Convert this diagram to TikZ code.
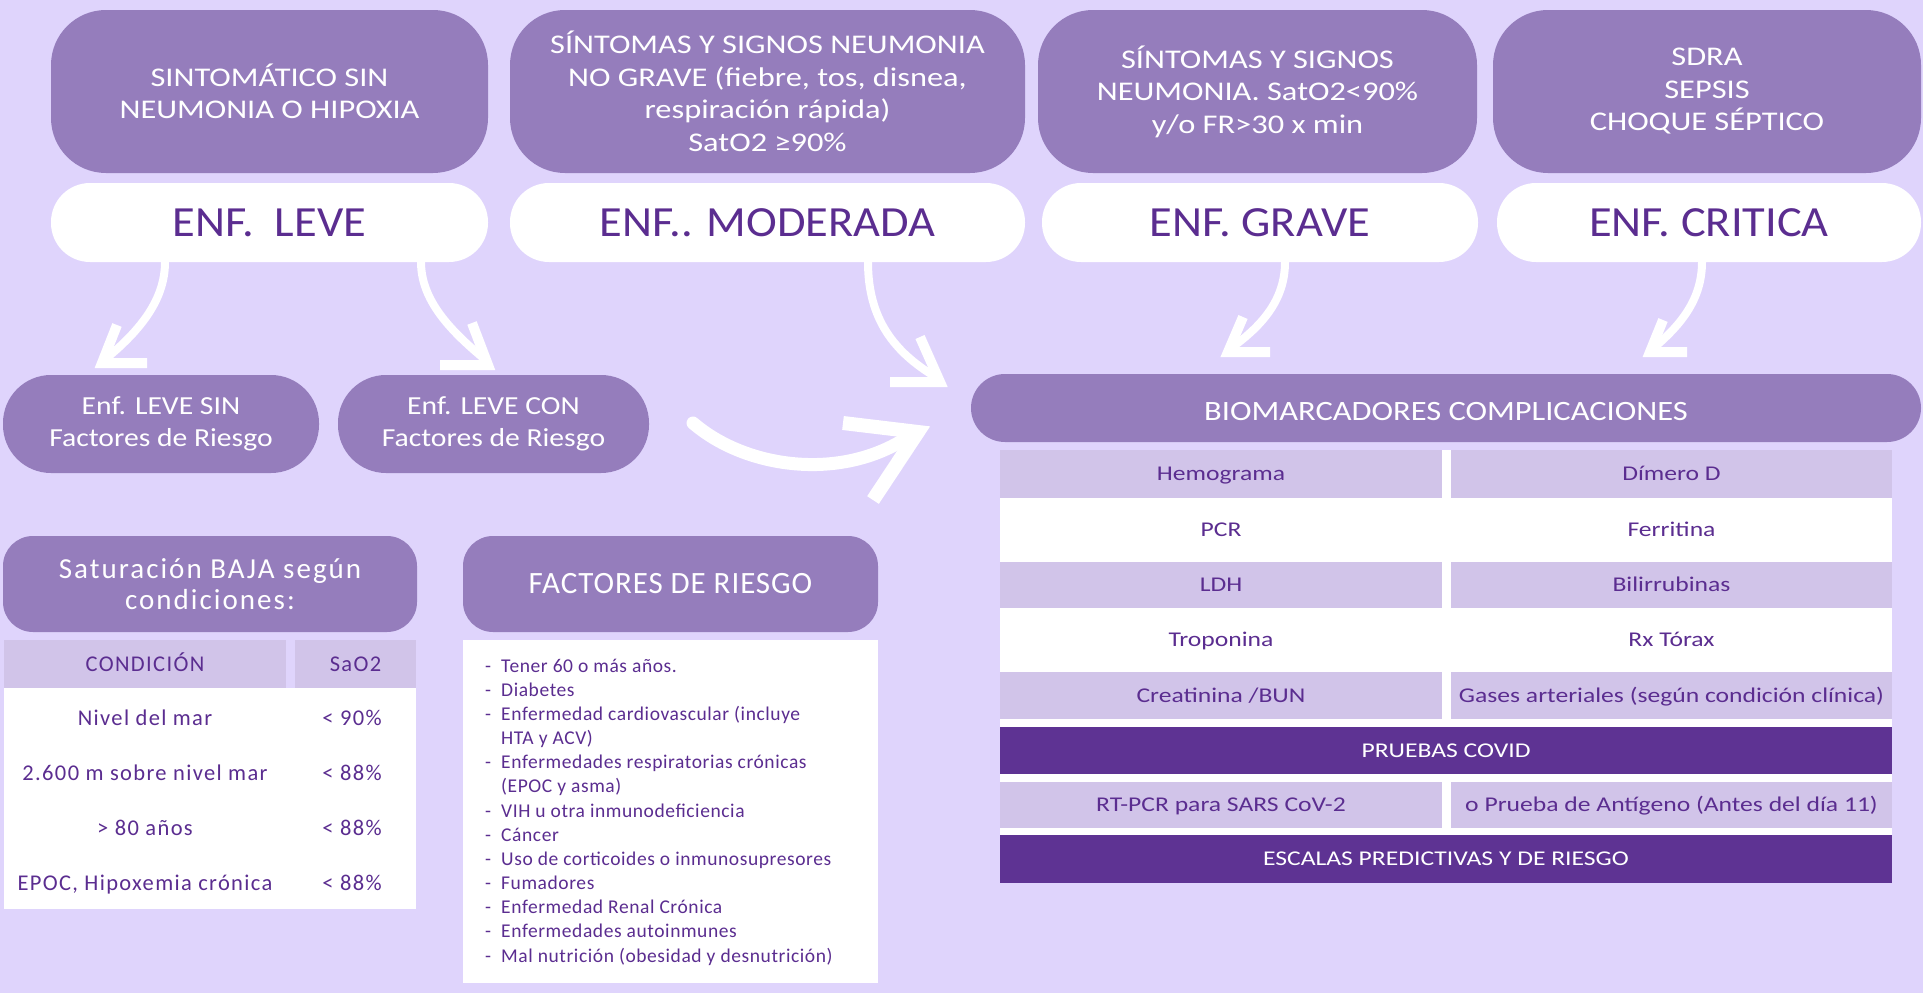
\documentclass[tikz,border=0pt]{standalone}
\usepackage{fontspec}
\setmainfont{Carlito}
\newfontfamily\stf[FakeStretch=1.2]{Carlito}
\newfontfamily\enff[FakeStretch=1.08]{Carlito}
\newfontfamily\pilf[FakeStretch=1.14]{Carlito}
\newfontfamily\bmf[FakeStretch=1.16]{Carlito}
\newfontfamily\cellf[FakeStretch=1.22]{Carlito}
\newfontfamily\lsf[LetterSpace=6]{Carlito}
\newfontfamily\lstf[LetterSpace=7]{Carlito}
\newfontfamily\lmf[LetterSpace=3]{Carlito}
\definecolor{bgc}{HTML}{DFD4FC}
\definecolor{boxc}{HTML}{957DBC}
\definecolor{lightc}{HTML}{D1C4E9}
\definecolor{darkc}{HTML}{5E3393}
\definecolor{txtc}{HTML}{5B2D90}
\tikzset{
  topbox/.style={fill=boxc, rounded corners=55pt, minimum height=163pt, inner sep=0pt, text=white, align=center, font=\stf\fontsize{27}{32.5}\selectfont},
  enfpill/.style={fill=white, rounded corners=39pt, minimum height=79pt, inner sep=0pt, text=txtc, font=\enff\fontsize{43}{50}\selectfont, text height=28pt, text depth=0pt},
  subpill/.style={fill=boxc, rounded corners=48pt, minimum height=98pt, inner sep=0pt, text=white, align=center, font=\pilf\fontsize{26}{32}\selectfont},
  hdrbox/.style={fill=boxc, rounded corners=30pt, minimum height=96pt, inner sep=0pt, text=white, align=center},
  cell/.style={inner sep=0pt, text=txtc, font=\cellf\fontsize{21}{25}\selectfont, text height=13.5pt, text depth=0pt},
  darkcell/.style={cell, fill=darkc, text=white, minimum width=892pt},
  ltcell/.style={inner sep=0pt, text=txtc, font=\lsf\fontsize{22.5}{27}\selectfont},
  litem/.style={inner sep=0pt, anchor=base west, text=txtc, font=\lmf\fontsize{19.5}{24}\selectfont},
  arr/.style={draw=white, line width=8pt, line cap=round},
  arrhead/.style={draw=white, line width=10pt, line join=miter, line cap=butt}
}
\begin{document}
\begin{tikzpicture}[x=1pt,y=-1pt]
\useasboundingbox (0,0) rectangle (1923,993);
\fill[bgc] (0,0) rectangle (1923,993);

% top boxes
\node[topbox, minimum width=437pt] (t1) at (269.5,91.5) {SINTOMÁTICO SIN\\NEUMONIA O HIPOXIA};
\node[topbox, minimum width=515pt] (t2) at (767.5,91.5) {SÍNTOMAS Y SIGNOS NEUMONIA\\NO GRAVE (fiebre, tos, disnea,\\respiración rápida)\\SatO2 ≥90\%};
\node[topbox, minimum width=439pt] (t3) at (1257.5,91.5) {SÍNTOMAS Y SIGNOS\\NEUMONIA. SatO2<90\%\\y/o FR>30 x min};
\node[topbox, minimum width=428pt] (t4) at (1707,91.5) {SDRA\\SEPSIS\\CHOQUE SÉPTICO};

% severity pills
\node[enfpill, minimum width=437pt] (e1) at (269.5,222.5) {ENF.~~LEVE};
\node[enfpill, minimum width=515pt] (e2) at (767.5,222.5) {ENF.. MODERADA};
\node[enfpill, minimum width=436pt] (e3) at (1260,222.5) {ENF. GRAVE};
\node[enfpill, minimum width=424pt] (e4) at (1709,222.5) {ENF. CRITICA};

% sub pills
\node[subpill, minimum width=316pt] (s1) at (161,424) {Enf. LEVE SIN\\Factores de Riesgo};
\node[subpill, minimum width=311pt] (s2) at (493.5,424) {Enf. LEVE CON\\Factores de Riesgo};

% biomarcadores
\node[fill=boxc, rounded corners=34pt, minimum width=950pt, minimum height=68pt, inner sep=0pt, text=white, font=\bmf\fontsize{28}{34}\selectfont, text height=24pt, text depth=0pt] (bio) at (1446,408) {BIOMARCADORES COMPLICACIONES};

% right table
\node[fill=white, minimum width=892pt, minimum height=433pt, inner sep=0pt] (tbl) at (1446,666.5) {};
\node[cell, fill=lightc, minimum width=442pt, minimum height=48pt] (c11) at (1221,474) {Hemograma};
\node[cell, fill=lightc, minimum width=441pt, minimum height=48pt] (c12) at (1671.5,474) {Dímero D};
\node[cell, minimum width=442pt, minimum height=64pt] (c21) at (1221,530) {PCR};
\node[cell, minimum width=441pt, minimum height=64pt] (c22) at (1671.5,530) {Ferritina};
\node[cell, fill=lightc, minimum width=442pt, minimum height=46pt] (c31) at (1221,585) {LDH};
\node[cell, fill=lightc, minimum width=441pt, minimum height=46pt] (c32) at (1671.5,585) {Bilirrubinas};
\node[cell, minimum width=442pt, minimum height=64pt] (c41) at (1221,640) {Troponina};
\node[cell, minimum width=441pt, minimum height=64pt] (c42) at (1671.5,640) {Rx Tórax};
\node[cell, fill=lightc, minimum width=442pt, minimum height=47pt] (c51) at (1221,695.5) {Creatinina /BUN};
\node[cell, fill=lightc, minimum width=441pt, minimum height=47pt] (c52) at (1671.5,695.5) {Gases arteriales (según condición clínica)};
\node[darkcell, minimum height=47pt] (c6) at (1446,750.5) {PRUEBAS COVID};
\node[cell, fill=lightc, minimum width=442pt, minimum height=46pt] (c71) at (1221,805) {RT-PCR para SARS CoV-2};
\node[cell, fill=lightc, minimum width=441pt, minimum height=46pt] (c72) at (1671.5,805) {o Prueba de Antígeno (Antes del día 11)};
\node[darkcell, minimum height=48pt] (c8) at (1446,859) {ESCALAS PREDICTIVAS Y DE RIESGO};

% saturation table
\node[hdrbox, minimum width=414pt, font=\lstf\fontsize{29}{31}\selectfont] (sat) at (210,584) {Saturación BAJA según\\condiciones:};
\node[ltcell, fill=lightc, minimum width=282pt, minimum height=48pt, text height=15pt, text depth=0pt] (h1) at (145,664) {CONDICIÓN};
\node[ltcell, fill=lightc, minimum width=121pt, minimum height=48pt, text height=15pt, text depth=0pt] (h2) at (355.5,664) {SaO2};
\node[fill=white, minimum width=412pt, minimum height=221pt, inner sep=0pt] (satw) at (210,798.5) {};
\node[ltcell, anchor=base] (r1a) at (145,725) {Nivel del mar};
\node[ltcell, anchor=base] (r1b) at (352,725) {< 90\%};
\node[ltcell, anchor=base] (r2a) at (145,780) {2.600 m sobre nivel mar};
\node[ltcell, anchor=base] (r2b) at (352,780) {< 88\%};
\node[ltcell, anchor=base] (r3a) at (145,835) {> 80 años};
\node[ltcell, anchor=base] (r3b) at (352,835) {< 88\%};
\node[ltcell, anchor=base] (r4a) at (145,890) {EPOC, Hipoxemia crónica};
\node[ltcell, anchor=base] (r4b) at (352,890) {< 88\%};

% factores de riesgo
\node[hdrbox, minimum width=415pt, font=\lmf\fontsize{31}{36}\selectfont] (fac) at (670.5,584) {FACTORES DE RIESGO};
\node[fill=white, minimum width=415pt, minimum height=343pt, inner sep=0pt] (facw) at (670.5,811.5) {};
\node[litem] (l1) at (485,672) {\makebox[16pt][l]{-}Tener 60 o más años.};
\node[litem] (l2) at (485,696.2) {\makebox[16pt][l]{-}Diabetes};
\node[litem] (l3) at (485,720.3) {\makebox[16pt][l]{-}Enfermedad cardiovascular (incluye};
\node[litem] (l4) at (485,744.5) {\hspace{16pt}HTA y ACV)};
\node[litem] (l5) at (485,768.7) {\makebox[16pt][l]{-}Enfermedades respiratorias crónicas};
\node[litem] (l6) at (485,792.8) {\hspace{16pt}(EPOC y asma)};
\node[litem] (l7) at (485,817) {\makebox[16pt][l]{-}VIH u otra inmunodeficiencia};
\node[litem] (l8) at (485,841.2) {\makebox[16pt][l]{-}Cáncer};
\node[litem] (l9) at (485,865.3) {\makebox[16pt][l]{-}Uso de corticoides o inmunosupresores};
\node[litem] (l10) at (485,889.5) {\makebox[16pt][l]{-}Fumadores};
\node[litem] (l11) at (485,913.7) {\makebox[16pt][l]{-}Enfermedad Renal Crónica};
\node[litem] (l12) at (485,937.8) {\makebox[16pt][l]{-}Enfermedades autoinmunes};
\node[litem] (l13) at (485,962) {\makebox[16pt][l]{-}Mal nutrición (obesidad y desnutrición)};

% arrows
\coordinate (a1s) at (165,262); \coordinate (a1e) at (108,357);
\coordinate (a1t) at (102,363); \coordinate (a1u) at (117,325); \coordinate (a1r) at (147,363);
\draw[arr] (a1s) .. controls (165,300) and (140,330) .. (a1e);
\draw[arrhead] (a1u) -- (a1t) -- (a1r);

\coordinate (a2s) at (421,262); \coordinate (a2e) at (482,357);
\coordinate (a2t) at (488,365); \coordinate (a2u) at (472,323); \coordinate (a2l) at (440,365);
\draw[arr] (a2s) .. controls (421,300) and (450,330) .. (a2e);
\draw[arrhead] (a2u) -- (a2t) -- (a2l);

\coordinate (a3s) at (868,262); \coordinate (a3e) at (934,376);
\coordinate (a3t) at (940,382); \coordinate (a3u) at (920,337); \coordinate (a3l) at (890,382);
\draw[arr] (a3s) .. controls (868,320) and (895,352) .. (a3e);
\draw[arrhead] (a3u) -- (a3t) -- (a3l);

\coordinate (a5s) at (1285,262); \coordinate (a5e) at (1234,346);
\coordinate (a5t) at (1228,352); \coordinate (a5u) at (1243,317); \coordinate (a5r) at (1270,352);
\draw[arr] (a5s) .. controls (1285,300) and (1262,325) .. (a5e);
\draw[arrhead] (a5u) -- (a5t) -- (a5r);

\coordinate (a6s) at (1702,262); \coordinate (a6e) at (1656,346);
\coordinate (a6t) at (1650,352); \coordinate (a6u) at (1663,320); \coordinate (a6r) at (1687,352);
\draw[arr] (a6s) .. controls (1702,300) and (1680,325) .. (a6e);
\draw[arrhead] (a6u) -- (a6t) -- (a6r);

\coordinate (a4s) at (693,423); \coordinate (a4e) at (908,437);
\coordinate (a4t) at (918,432); \coordinate (a4l) at (843,423); \coordinate (a4d) at (873,500);
\draw[arr, line width=13pt] (a4s) .. controls (745,468) and (840,482) .. (a4e);
\draw[arrhead, line width=14pt] (a4l) -- (a4t) -- (a4d);
\end{tikzpicture}
\end{document}
